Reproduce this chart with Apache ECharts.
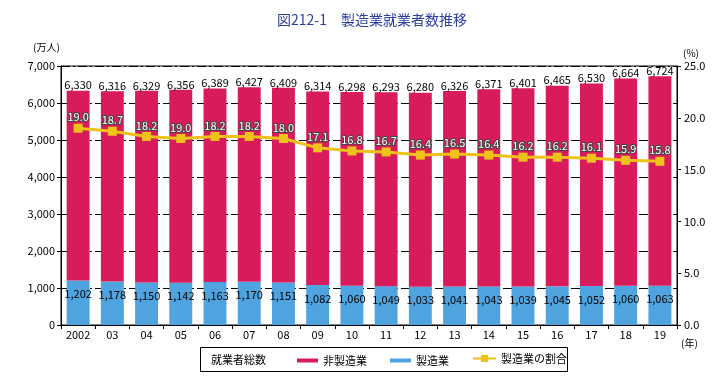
<!DOCTYPE html>
<html><head><meta charset="utf-8">
<script src="https://cdn.jsdelivr.net/npm/echarts@6/dist/echarts.min.js"></script>
<style>html,body{margin:0;padding:0;background:#fff}#c{width:721px;height:381px}</style>
</head><body><div id="c"></div>
<script>
var years = ['2002','03','04','05','06','07','08','09','10','11','12','13','14','15','16','17','18','19'];
var totals = [6330,6316,6329,6356,6389,6427,6409,6314,6298,6293,6280,6326,6371,6401,6465,6530,6664,6724];
var manufacturing = [1202,1178,1150,1142,1163,1170,1151,1082,1060,1049,1033,1041,1043,1039,1045,1052,1060,1063];
var nonManufacturing = [5128,5138,5179,5214,5226,5257,5258,5232,5238,5244,5247,5285,5328,5362,5420,5478,5604,5661];
var ratio = [19.0,18.7,18.2,18.0,18.2,18.2,18.0,17.1,16.8,16.7,16.4,16.5,16.4,16.2,16.2,16.1,15.9,15.8];
var ratioLabels = ['19.0','18.7','18.2','19.0','18.2','18.2','18.0','17.1','16.8','16.7','16.4','16.5','16.4','16.2','16.2','16.1','15.9','15.8'];
var leftTicks = [0,1000,2000,3000,4000,5000,6000,7000];
var rightTicks = [0,5,10,15,20,25];

var FONT = '"Noto Sans CJK JP", "Noto Sans", sans-serif';
var RED = '#d81b5a', BLUE = '#4fa3de', YEL = '#efc21a';
function fmt(n){ return n.toString().replace(/\B(?=(\d{3})+(?!\d))/g, ','); }
var legText = {fontSize:11, color:'#000', fontFamily:FONT};

var chart = echarts.init(document.getElementById('c'), null, {renderer:'canvas'});
chart.setOption({
  animation:false,
  textStyle:{fontFamily:FONT},
  title:{text:'図212-1　製造業就業者数推移', left:367, top:8, textAlign:'center',
    textStyle:{color:'#2b3ea0', fontSize:14, fontWeight:'normal', fontFamily:FONT}},
  grid:{left:61, right:44, top:66, bottom:56, show:true, borderColor:'#000', borderWidth:1, backgroundColor:'transparent'},
  legend:[
    {data:[{name:'非製造業', icon:'rect'}], left:292, top:350, itemWidth:21, itemHeight:4, textStyle:legText, selectedMode:false},
    {data:[{name:'製造業', icon:'rect'}], left:385, top:350, itemWidth:21, itemHeight:4, textStyle:legText, selectedMode:false},
    {data:[{name:'製造業の割合'}], left:467, top:348, itemWidth:23, itemHeight:9, textStyle:legText, selectedMode:false}
  ],
  graphic:[
    {type:'rect', shape:{x:200.5, y:347.5, width:367, height:24}, style:{fill:'none', stroke:'#000', lineWidth:1}, z:0},
    {type:'text', x:211, y:359.5, style:{text:'就業者総数', fill:'#000', font:'11px '+FONT, textVerticalAlign:'middle'}},
    {type:'text', x:33, y:47, style:{text:'(万人)', fill:'#000', font:'10px '+FONT, textVerticalAlign:'middle'}},
    {type:'text', x:683, y:53, style:{text:'(%)', fill:'#000', font:'10px '+FONT, textVerticalAlign:'middle'}},
    {type:'text', x:681, y:343, style:{text:'(年)', fill:'#000', font:'10px '+FONT, textVerticalAlign:'middle'}}
  ],
  xAxis:{type:'category', data:years,
    axisLine:{lineStyle:{color:'#000', width:1}},
    axisTick:{show:true, length:4, lineStyle:{color:'#000'}},
    axisLabel:{fontSize:11, color:'#000', margin:4, fontFamily:FONT}},
  yAxis:[
    {type:'value', min:leftTicks[0], max:leftTicks[leftTicks.length-1], interval:1000,
     axisLine:{show:true, lineStyle:{color:'#000'}},
     axisTick:{show:true, length:4, lineStyle:{color:'#000'}},
     axisLabel:{fontSize:11, color:'#000', margin:6, fontFamily:FONT, formatter:function(v){return fmt(v);}},
     splitLine:{show:true, lineStyle:{color:'#000', width:1, type:[9,3,2,3]}}},
    {type:'value', min:rightTicks[0], max:rightTicks[rightTicks.length-1], interval:5, position:'right',
     axisLine:{show:true, lineStyle:{color:'#000'}},
     axisTick:{show:true, length:4, lineStyle:{color:'#000'}},
     axisLabel:{fontSize:11, color:'#000', margin:7, fontFamily:FONT, formatter:function(v){return v.toFixed(1);}},
     splitLine:{show:false}}
  ],
  series:[
    {name:'製造業', type:'bar', stack:'emp', data:manufacturing, barWidth:'67%',
     itemStyle:{color:BLUE},
     label:{show:true, position:'insideTop', distance:5, offset:[0,3], fontSize:11, color:'#000', fontFamily:FONT,
       formatter:function(p){return fmt(p.value);}}},
    {name:'非製造業', type:'bar', stack:'emp', data:nonManufacturing, barWidth:'67%',
     itemStyle:{color:RED},
     label:{show:true, position:'top', distance:0, fontSize:11, color:'#000', fontFamily:FONT,
       formatter:function(p){return fmt(totals[p.dataIndex]);}}},
    {name:'製造業の割合', type:'line', yAxisIndex:1, data:ratio, z:5,
     symbol:'rect', symbolSize:9,
     lineStyle:{color:YEL, width:3}, itemStyle:{color:YEL},
     label:{show:true, position:'top', distance:1, fontSize:11, color:'#fff', textBorderColor:'#444', textBorderWidth:2, fontFamily:FONT,
       formatter:function(p){return ratioLabels[p.dataIndex];}}}
  ]
});
</script></body></html>
